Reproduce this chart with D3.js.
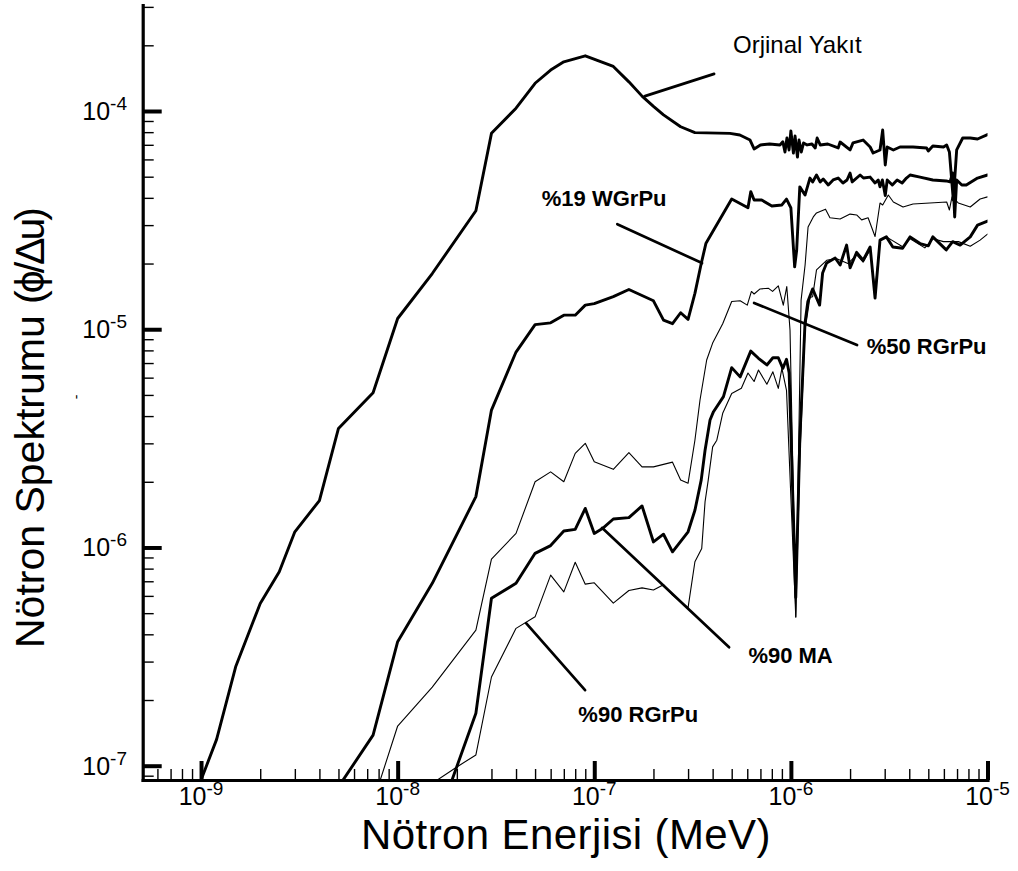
<!DOCTYPE html>
<html><head><meta charset="utf-8">
<script src="https://cdn.jsdelivr.net/npm/d3@7"></script>
<style>
body{margin:0;background:#fff}
svg{display:block}
text{font-family:"Liberation Sans",Arial,Helvetica,sans-serif;fill:#000}
</style>
</head><body>
<svg id="chart" width="1018" height="871"></svg>
<script>
// ---------------- data (energy in MeV, flux per lethargy) ----------------
const xDomain = [5.05e-10, 1e-5];
const yDomain = [8.6e-8, 3.06e-4];
const xMajor = [1e-9, 1e-8, 1e-7, 1e-6, 1e-5];
const yMajor = [1e-7, 1e-6, 1e-5, 1e-4];

const orjinalYakit = [
 [1.0e-9,8.6e-8],[1.2e-9,1.32e-7],[1.5e-9,2.84e-7],[2.0e-9,5.54e-7],[2.5e-9,7.74e-7],
 [3.0e-9,1.18e-6],[4.0e-9,1.64e-6],[5.0e-9,3.51e-6],[7.5e-9,5.12e-6],[1.0e-8,1.12e-5],
 [1.5e-8,1.80e-5],[2.5e-8,3.49e-5],[3.0e-8,7.9e-5],[4.0e-8,1.03e-4],[5.0e-8,1.34e-4],
 [6.0e-8,1.54e-4],[7.0e-8,1.68e-4],[9.0e-8,1.79e-4],[1.25e-7,1.60e-4],[1.5e-7,1.36e-4],
 [1.75e-7,1.17e-4],[2.0e-7,1.05e-4],[2.25e-7,9.6e-5],[2.75e-7,8.47e-5],[3.25e-7,7.96e-5],
 [4.9e-7,7.9e-5],[5.5e-7,7.76e-5],[6.2e-7,7.36e-5],[6.5e-7,6.7e-5],[7.0e-7,6.99e-5],
 [7.8e-7,7.06e-5],[8.8e-7,6.99e-5],[9.1e-7,7.23e-5],[9.33e-7,6.49e-5],[9.55e-7,7.52e-5],
 [9.79e-7,6.63e-5],[1.0e-6,8.1e-5],[1.03e-6,6.42e-5],[1.05e-6,7.68e-5],[1.08e-6,6.15e-5],
 [1.1e-6,7.36e-5],[1.13e-6,6.49e-5],[1.16e-6,7.14e-5],[1.21e-6,6.99e-5],[1.28e-6,7.06e-5],
 [1.33e-6,6.77e-5],[1.36e-6,7.52e-5],[1.41e-6,6.99e-5],[1.54e-6,7.06e-5],[1.74e-6,6.77e-5],
 [1.78e-6,7.21e-5],[2.0e-6,6.63e-5],[2.07e-6,7.14e-5],[2.33e-6,7.36e-5],[2.53e-6,6.84e-5],
 [2.62e-6,6.42e-5],[2.84e-6,6.63e-5],[2.93e-6,8.18e-5],[3.02e-6,5.66e-5],[3.09e-6,6.84e-5],
 [3.32e-6,6.63e-5],[3.59e-6,6.84e-5],[4.18e-6,6.84e-5],[4.9e-6,6.77e-5],[5.0e-6,6.56e-5],
 [5.27e-6,6.91e-5],[5.97e-6,6.84e-5],[6.2e-6,6.99e-5],[6.4e-6,6.49e-5],[6.7e-6,3.91e-5],
 [6.97e-6,6.63e-5],[7.48e-6,7.52e-5],[8.17e-6,7.52e-5],[8.9e-6,7.44e-5],[1.0e-5,7.8e-5]
];

const wgrPu19 = [
 [5e-9,8.0e-8],[7.5e-9,1.38e-7],[1e-8,3.7e-7],[1.5e-8,6.85e-7],[2.5e-8,1.71e-6],
 [3e-8,4.26e-6],[4e-8,7.86e-6],[5e-8,1.05e-5],[6e-8,1.07e-5],[7e-8,1.16e-5],
 [8e-8,1.16e-5],[9e-8,1.29e-5],[1e-7,1.31e-5],[1.25e-7,1.41e-5],[1.5e-7,1.52e-5],
 [2e-7,1.35e-5],[2.25e-7,1.1e-5],[2.5e-7,1.06e-5],[2.75e-7,1.19e-5],[3e-7,1.11e-5],
 [3.25e-7,1.46e-5],[3.5e-7,2.0e-5],[3.7e-7,2.48e-5],[5e-7,3.95e-5],[6.05e-7,3.6e-5],
 [6.25e-7,4.27e-5],[6.5e-7,3.91e-5],[7.1e-7,3.91e-5],[8.0e-7,3.67e-5],[9.0e-7,3.71e-5],
 [9.5e-7,3.95e-5],[1.0e-6,3.6e-5],[1.045e-6,1.93e-5],[1.07e-6,2.3e-5],[1.11e-6,4.49e-5],
 [1.18e-6,4.12e-5],[1.25e-6,4.93e-5],[1.29e-6,4.73e-5],[1.35e-6,5.09e-5],[1.41e-6,4.73e-5],
 [1.46e-6,4.88e-5],[1.55e-6,4.58e-5],[1.64e-6,4.83e-5],[1.74e-6,4.93e-5],[1.84e-6,4.68e-5],
 [1.93e-6,4.83e-5],[2.0e-6,5.2e-5],[2.05e-6,4.73e-5],[2.25e-6,5.09e-5],[2.34e-6,4.93e-5],
 [2.53e-6,4.98e-5],[2.68e-6,4.68e-5],[2.78e-6,4.83e-5],[2.84e-6,4.49e-5],[2.92e-6,4.83e-5],
 [3.02e-6,4.1e-5],[3.09e-6,4.83e-5],[3.28e-6,4.58e-5],[3.47e-6,4.83e-5],[3.68e-6,4.68e-5],
 [3.87e-6,4.93e-5],[4.04e-6,5.09e-5],[4.54e-6,4.98e-5],[5.27e-6,4.83e-5],[6.17e-6,4.78e-5],
 [6.45e-6,4.73e-5],[6.65e-6,5.2e-5],[6.81e-6,3.27e-5],[6.97e-6,4.83e-5],[7.4e-6,4.58e-5],
 [7.8e-6,4.58e-5],[8.9e-6,4.93e-5],[1.0e-5,5.09e-5]
];

const rgrPu50 = [
 [7.5e-9,6.8e-8],[1e-8,1.52e-7],[1.5e-8,2.29e-7],[2.5e-8,4.18e-7],[3e-8,8.85e-7],
 [4e-8,1.16e-6],[5e-8,2.0e-6],[6e-8,2.22e-6],[7e-8,2.0e-6],[8e-8,2.7e-6],
 [9e-8,3.0e-6],[1e-7,2.47e-6],[1.25e-7,2.28e-6],[1.5e-7,2.72e-6],[1.75e-7,2.34e-6],
 [2e-7,2.34e-6],[2.5e-7,2.46e-6],[2.75e-7,2.04e-6],[3e-7,1.97e-6],[3.25e-7,3.1e-6],
 [3.45e-7,4.74e-6],[3.73e-7,7.23e-6],[4e-7,8.64e-6],[4.5e-7,1.06e-5],[5e-7,1.34e-5],
 [5.52e-7,1.35e-5],[6e-7,1.29e-5],[6.3e-7,1.49e-5],[6.5e-7,1.45e-5],[6.97e-7,1.53e-5],
 [7.7e-7,1.54e-5],[8.07e-7,1.49e-5],[8.63e-7,1.58e-5],[9.15e-7,1.29e-5],[9.53e-7,1.57e-5],
 [9.9e-7,9.9e-6],[1.026e-6,2.04e-6],[1.059e-6,4.8e-7],[1.088e-6,2.04e-6],[1.127e-6,1.36e-5],
 [1.181e-6,1.97e-5],[1.223e-6,2.94e-5],[1.3e-6,3.27e-5],[1.35e-6,3.41e-5],[1.5e-6,3.55e-5],
 [1.58e-6,3.24e-5],[1.78e-6,3.2e-5],[2.0e-6,3.37e-5],[2.16e-6,3.34e-5],[2.29e-6,3.17e-5],
 [2.47e-6,3.24e-5],[2.68e-6,2.66e-5],[2.84e-6,3.79e-5],[2.93e-6,3.71e-5],[3.13e-6,4.12e-5],
 [3.32e-6,3.83e-5],[3.72e-6,3.63e-5],[4.18e-6,3.75e-5],[6.2e-6,3.83e-5],[6.4e-6,3.52e-5],
 [6.6e-6,4.04e-5],[7.1e-6,3.79e-5],[8.17e-6,3.63e-5],[9.17e-6,3.95e-5],[1e-5,4.04e-5]
];

const ma90 = [
 [1.5e-8,4.8e-8],[2.5e-8,1.74e-7],[3e-8,5.85e-7],[4e-8,6.85e-7],[5e-8,9.4e-7],
 [6e-8,1.02e-6],[7e-8,1.19e-6],[8e-8,1.21e-6],[9e-8,1.51e-6],[1e-7,1.16e-6],
 [1.1e-7,1.22e-6],[1.25e-7,1.35e-6],[1.5e-7,1.37e-6],[1.75e-7,1.55e-6],[2e-7,1.06e-6],
 [2.25e-7,1.15e-6],[2.5e-7,9.55e-7],[3e-7,1.18e-6],[3.25e-7,1.48e-6],[3.5e-7,2.04e-6],
 [3.66e-7,2.79e-6],[3.88e-7,3.84e-6],[4.04e-7,4.19e-6],[4.54e-7,4.91e-6],[5e-7,6.67e-6],
 [5.52e-7,6.05e-6],[6.25e-7,7.94e-6],[6.84e-7,7.36e-6],[7.55e-7,6.86e-6],[8.1e-7,7.4e-6],
 [8.63e-7,7.4e-6],[9.1e-7,6.62e-6],[9.5e-7,7.28e-6],[9.8e-7,6.3e-6],[1.059e-6,5.9e-7],
 [1.11e-6,3.1e-6],[1.18e-6,1.07e-5],[1.22e-6,1.34e-5],[1.29e-6,1.53e-5],[1.35e-6,1.39e-5],
 [1.4e-6,1.29e-5],[1.45e-6,1.81e-5],[1.52e-6,2.01e-5],[1.68e-6,2.12e-5],[1.78e-6,1.97e-5],
 [1.92e-6,2.43e-5],[2.0e-6,1.91e-5],[2.16e-6,2.25e-5],[2.33e-6,2.07e-5],[2.53e-6,2.38e-5],
 [2.68e-6,1.39e-5],[2.84e-6,2.56e-5],[3.06e-6,2.65e-5],[3.3e-6,2.38e-5],[3.7e-6,2.35e-5],
 [4.04e-6,2.65e-5],[4.54e-6,2.47e-5],[5.0e-6,2.41e-5],[5.27e-6,2.65e-5],[6.17e-6,2.31e-5],
 [6.65e-6,2.52e-5],[7.26e-6,2.43e-5],[8.17e-6,2.65e-5],[8.9e-6,3.0e-5],[1e-5,3.13e-5]
];

const rgrPu90 = [
 [1.5e-8,8.3e-8],[2e-8,9.87e-8],[2.5e-8,1.12e-7],[3e-8,2.55e-7],[4e-8,4.26e-7],
 [5e-8,4.81e-7],[6e-8,7.47e-7],[7e-8,6.26e-7],[8e-8,8.55e-7],[9e-8,6.79e-7],
 [1e-7,6.89e-7],[1.25e-7,5.56e-7],[1.5e-7,6.35e-7],[1.75e-7,6.53e-7],[2e-7,6.38e-7],
 [2.25e-7,6.75e-7],[2.5e-7,6.05e-7],[3e-7,5.3e-7],[3.25e-7,8.6e-7],[3.52e-7,9.9e-7],
 [3.66e-7,1.62e-6],[3.8e-7,2.04e-6],[4.0e-7,2.89e-6],[4.2e-7,3.1e-6],[4.5e-7,4.12e-6],
 [5.0e-7,5.08e-6],[5.6e-7,5.36e-6],[6.05e-7,6.3e-6],[6.5e-7,5.76e-6],[6.84e-7,6.5e-6],
 [7.55e-7,5.6e-6],[8.1e-7,6.38e-6],[8.63e-7,5.36e-6],[9.0e-7,6.62e-6],[9.5e-7,5.25e-6],
 [1.059e-6,4.8e-7],[1.11e-6,2.52e-6],[1.18e-6,9.9e-6],[1.25e-6,1.4e-5],[1.29e-6,1.41e-5],
 [1.35e-6,1.87e-5],[1.52e-6,2.07e-5],[1.7e-6,2.11e-5],[1.95e-6,2.0e-5],[2.16e-6,2.19e-5],
 [2.33e-6,2.03e-5],[2.53e-6,2.31e-5],[2.68e-6,1.5e-5],[2.84e-6,2.56e-5],[3.06e-6,2.65e-5],
 [3.7e-6,2.39e-5],[4.04e-6,2.6e-5],[4.8e-6,2.36e-5],[5.3e-6,2.6e-5],[5.97e-6,2.52e-5],
 [7.11e-6,2.52e-5],[8.17e-6,2.4e-5],[9.17e-6,2.56e-5],[1e-5,2.73e-5]
];

const seriesList = [orjinalYakit, wgrPu19, rgrPu50, ma90, rgrPu90];
const seriesThick = [true, true, false, true, false];

// annotations (data coordinates)
const labelTexts = ["Orjinal Yakıt", "%19 WGrPu", "%50 RGrPu", "%90 MA", "%90 RGrPu"];
const labelAnchors = [[5.08e-7,1.84e-4],[5.41e-8,3.67e-5],[2.43e-6,7.69e-6],[6.08e-7,2.94e-7],[8.3e-8,1.59e-7]];
const leaderFrom = [[1.81e-7,1.17e-4],[1.31e-7,3.03e-5],[6.5e-7,1.32e-5],[1.095e-7,1.23e-6],[4.5e-8,4.5e-7]];
const leaderTo = [[4.07e-7,1.48e-4],[3.53e-7,2.01e-5],[2.17e-6,8.46e-6],[4.85e-7,3.49e-7],[8.98e-8,2.22e-7]];

// ---------------- drawing ----------------
const W = 1018, H = 871;
const m = {l: 142.7, r: 30.5, t: 5, b: 91};
const svg = d3.select("#chart");
const x = d3.scaleLog().domain(xDomain).range([m.l, W - m.r]);
const y = d3.scaleLog().domain(yDomain).range([H - m.b, m.t]);

svg.append("clipPath").attr("id","plotclip").append("rect")
  .attr("x", m.l).attr("y", m.t).attr("width", W - m.r - m.l).attr("height", H - m.b - m.t);

const line = d3.line().x(d => x(d[0])).y(d => y(d[1]));
const gLines = svg.append("g").attr("clip-path","url(#plotclip)");
seriesList.forEach((s, i) => {
  gLines.append("path").attr("d", line(s)).attr("fill","none").attr("stroke","#000")
    .attr("stroke-width", seriesThick[i] ? 2.9 : 1.1)
    .attr("stroke-linejoin","round").attr("stroke-linecap","round");
});

// leader lines + labels
labelTexts.forEach((t, i) => {
  svg.append("line")
    .attr("x1", x(leaderFrom[i][0])).attr("y1", y(leaderFrom[i][1]))
    .attr("x2", x(leaderTo[i][0])).attr("y2", y(leaderTo[i][1]))
    .attr("stroke","#000").attr("stroke-width",2.7).attr("stroke-linecap","round");
  svg.append("text").attr("x", x(labelAnchors[i][0])).attr("y", y(labelAnchors[i][1]))
    .style("font-size", i === 0 ? "24px" : "22px")
    .style("font-weight", i === 0 ? "normal" : "bold")
    .text(t);
});

// axes
const isMajor = v => Math.abs(Math.log10(v) - Math.round(Math.log10(v))) < 1e-9;
const xMinor = x.ticks().filter(v => !isMajor(v));
const yMinor = y.ticks().filter(v => !isMajor(v));
const x0 = H - m.b;

const gxMin = svg.append("g").attr("transform", `translate(0,${x0})`)
  .call(d3.axisBottom(x).tickValues(xMinor).tickSize(-11).tickSizeOuter(0).tickFormat(""));
const gxMaj = svg.append("g").attr("transform", `translate(0,${x0})`)
  .call(d3.axisBottom(x).tickValues(xMajor).tickSize(-19).tickSizeOuter(0).tickFormat(""));
const gyMin = svg.append("g").attr("transform", `translate(${m.l},0)`)
  .call(d3.axisLeft(y).tickValues(yMinor).tickSize(-11).tickSizeOuter(0).tickFormat(""));
const gyMaj = svg.append("g").attr("transform", `translate(${m.l},0)`)
  .call(d3.axisLeft(y).tickValues(yMajor).tickSize(-19).tickSizeOuter(0).tickFormat(""));

[gxMin, gyMin].forEach(g => {
  g.select(".domain").attr("stroke","#000").attr("stroke-width",3.2).attr("stroke-linecap","square");
  g.selectAll(".tick line").attr("stroke","#000").attr("stroke-width",1.4);
});
[gxMaj, gyMaj].forEach(g => {
  g.select(".domain").remove();
  g.selectAll(".tick line").attr("stroke","#000").attr("stroke-width",4);
});

// tick labels
const expo = v => "-" + Math.abs(Math.round(Math.log10(v)));
xMajor.forEach(v => {
  const t = svg.append("text").attr("x", x(v)).attr("y", 805).attr("text-anchor","middle").style("font-size","25px");
  t.append("tspan").text("10");
  t.append("tspan").attr("dy", -10).style("font-size","19px").text(expo(v));
});
yMajor.forEach(v => {
  const t = svg.append("text").attr("x", 127).attr("y", y(v) + 9).attr("text-anchor","end").style("font-size","25px");
  t.append("tspan").text("10");
  t.append("tspan").attr("dy", -10).style("font-size","19px").text(expo(v));
});

// axis titles
svg.append("text").attr("x", 566).attr("y", 849).attr("text-anchor","middle")
  .style("font-size","42px").style("letter-spacing","0.4px").text("Nötron Enerjisi (MeV)");
const yt = svg.append("text").attr("transform","translate(44,648) rotate(-90)").attr("text-anchor","start")
  .style("font-size","41px");
yt.append("tspan").text("Nötron Spektrumu ");
yt.append("tspan").style("letter-spacing","-3px").text("(ϕ/Δu)");
// small stray mark left of the axis
svg.append("text").attr("transform","translate(81,397) rotate(-90)").attr("text-anchor","middle")
  .style("font-size","14px").text("-");
</script>
</body></html>
